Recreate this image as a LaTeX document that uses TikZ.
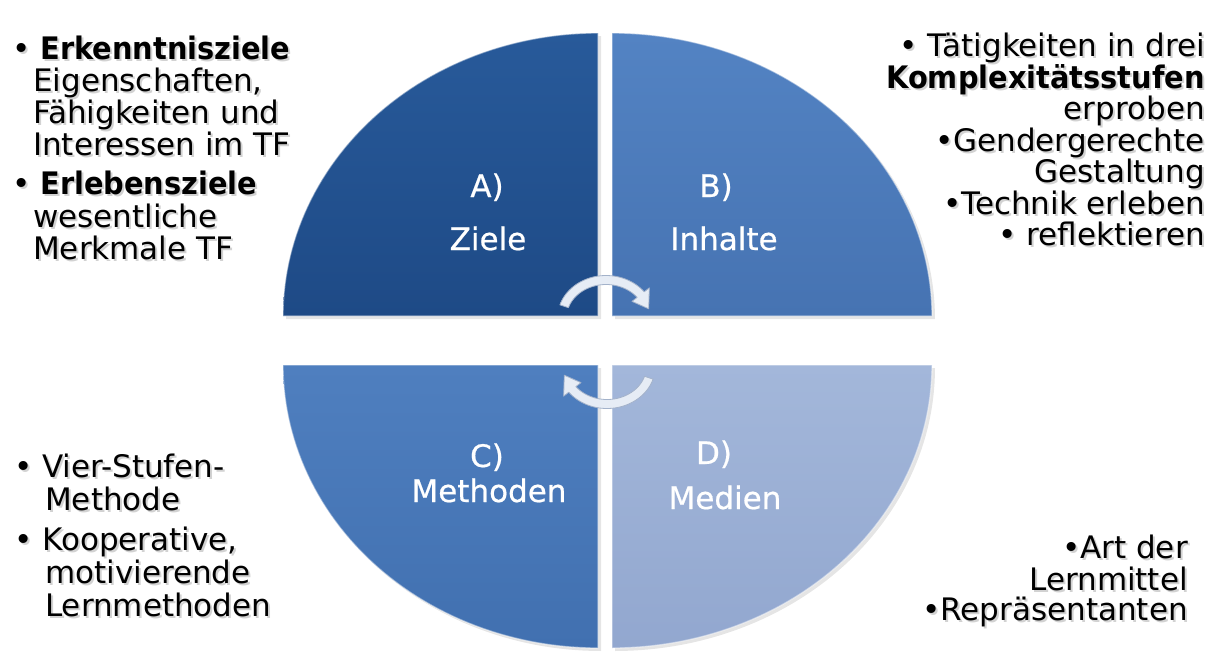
\documentclass[tikz,border=0pt]{standalone}
\usepackage{fontspec}
\setmainfont{DejaVu Sans}[BoldFeatures={FakeStretch=0.93}]
\newfontfamily\quarterfont{DejaVu Sans}[FakeBold=0.6]

\definecolor{qAtop}{HTML}{285A9A}
\definecolor{qAbot}{HTML}{1E4A86}
\definecolor{qBtop}{HTML}{5383C3}
\definecolor{qBbot}{HTML}{4673B2}
\definecolor{qCtop}{HTML}{4F7FBF}
\definecolor{qCbot}{HTML}{4170B0}
\definecolor{qDtop}{HTML}{A3B7DA}
\definecolor{qDbot}{HTML}{92A7CF}
\definecolor{arrowfill}{HTML}{E6ECF5}
\definecolor{arrowline}{HTML}{A3B2CA}

\tikzset{
  qlabel/.style={text=white, inner sep=0pt, anchor=base, font=\quarterfont\fontsize{31}{31}\selectfont},
  sidetext/.style={text=black, inner sep=0pt, font=\fontsize{31}{31}\selectfont},
  sideshadow/.style={text=black!35, opacity=.5, inner sep=0pt, font=\fontsize{31}{31}\selectfont},
  bevel/.style={draw=white, draw opacity=.45, line width=1.3pt},
  dropshade/.style={fill=black, fill opacity=.10},
  cyclearrow/.style={fill=arrowfill, draw=arrowline, line width=.8pt, line join=round},
}

% one line of side text with its soft shadow: name, x, baseline y, anchor, text
\newcommand\sideline[5]{%
  \node[sideshadow, anchor=#4] (#1s) at (#2+2,#3+2) {#5};
  \node[sidetext, anchor=#4] (#1) at (#2,#3) {#5};}

\begin{document}
\begin{tikzpicture}[x=1pt, y=-1pt]
\useasboundingbox (0,0) rectangle (1216,662);
\fill[white] (0,0) rectangle (1216,662);

% soft shadows under the four quarters
\fill[dropshade] (601,319) -- plot[domain=180:90, samples=60] ({601+315*cos(\x)},{319-283*sin(\x)}) -- cycle;
\fill[dropshade] (615,319) -- plot[domain=90:0, samples=60] ({615+320*cos(\x)},{319-283*sin(\x)}) -- cycle;
\fill[dropshade] (601,368) -- plot[domain=180:270, samples=60] ({601+315*cos(\x)},{368-283*sin(\x)}) -- cycle;
\fill[dropshade] (615,368) -- plot[domain=270:360, samples=60] ({615+320*cos(\x)},{368-283*sin(\x)}) -- cycle;

% quarter A (top left)
\path[top color=qAtop, bottom color=qAbot, bevel]
  (598,316) -- plot[domain=180:90, samples=60] ({598+315*cos(\x)},{316-283*sin(\x)}) -- cycle;
% quarter B (top right)
\path[top color=qBtop, bottom color=qBbot, bevel]
  (612,316) -- plot[domain=90:0, samples=60] ({612+320*cos(\x)},{316-283*sin(\x)}) -- cycle;
% quarter C (bottom left)
\path[top color=qCtop, bottom color=qCbot, bevel]
  (598,365) -- plot[domain=180:270, samples=60] ({598+315*cos(\x)},{365-283*sin(\x)}) -- cycle;
% quarter D (bottom right)
\path[top color=qDtop, bottom color=qDbot, bevel]
  (612,365) -- plot[domain=270:360, samples=60] ({612+320*cos(\x)},{365-283*sin(\x)}) -- cycle;

% circular arrows in the middle
\path[cyclearrow]
  plot[domain=162:38, samples=40] ({606+48.5*cos(\x)},{318-42.5*sin(\x)})
  -- ({606+55*cos(38)},{318-49*sin(38)})
  -- ({606+44*cos(14)},{318-38*sin(14)})
  -- ({606+33*cos(38)},{318-27*sin(38)})
  -- plot[domain=38:162, samples=40] ({606+39.5*cos(\x)},{318-33.5*sin(\x)}) -- cycle;
\path[cyclearrow]
  plot[domain=-18:-142, samples=40] ({607+48.5*cos(\x)},{366-42.5*sin(\x)})
  -- ({607+55*cos(-142)},{366-49*sin(-142)})
  -- ({607+44*cos(-166)},{366-38*sin(-166)})
  -- ({607+33*cos(-142)},{366-27*sin(-142)})
  -- plot[domain=-142:-18, samples=40] ({607+39.5*cos(\x)},{366-33.5*sin(\x)}) -- cycle;

% quarter labels
\node[qlabel] (a1) at (487,197) {A)};
\node[qlabel] (a2) at (488,250) {Ziele};
\node[qlabel] (b1) at (716,197) {B)};
\node[qlabel] (b2) at (724,250) {Inhalte};
\node[qlabel] (c1) at (487,467) {C)};
\node[qlabel] (c2) at (489,502) {Methoden};
\node[qlabel] (d1) at (714,464) {D)};
\node[qlabel] (d2) at (725,509) {Medien};

% goals
\sideline{ga1}{12}{59}{base west}{• \textbf{Erkenntnisziele}}
\sideline{ga2}{33}{91}{base west}{Eigenschaften,}
\sideline{ga3}{33}{123}{base west}{Fähigkeiten und}
\sideline{ga4}{33}{155}{base west}{Interessen im TF}
\sideline{ga5}{12}{194}{base west}{• \textbf{Erlebensziele}}
\sideline{ga6}{33}{227}{base west}{wesentliche}
\sideline{ga7}{33}{259}{base west}{Merkmale TF}

% contents
\sideline{ib1}{1205}{56}{base east}{• Tätigkeiten in drei}
\sideline{ib2}{1205}{88}{base east}{\textbf{Komplexitätsstufen}}
\sideline{ib3}{1205}{119}{base east}{erproben}
\sideline{ib4}{1205}{151}{base east}{•Gendergerechte}
\sideline{ib5}{1205}{182}{base east}{Gestaltung}
\sideline{ib6}{1205}{214}{base east}{•Technik erleben}
\sideline{ib7}{1205}{245}{base east}{• reflektieren}

% methods
\sideline{mc1}{14}{477}{base west}{•\ Vier-Stufen-}
\sideline{mc2}{45}{510}{base west}{Methode}
\sideline{mc3}{14}{550}{base west}{•\ Kooperative,}
\sideline{mc4}{45}{583}{base west}{motivierende}
\sideline{mc5}{45}{616}{base west}{Lernmethoden}

% media
\sideline{md1}{1188}{558}{base east}{•Art der}
\sideline{md2}{1188}{590}{base east}{Lernmittel}
\sideline{md3}{1188}{620}{base east}{•Repräsentanten}
\end{tikzpicture}
\end{document}
